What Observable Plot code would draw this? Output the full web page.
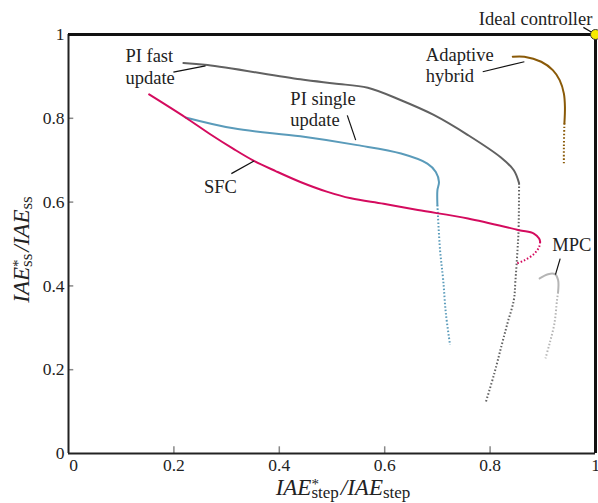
<!DOCTYPE html>
<html><head><meta charset="utf-8">
<script src="https://cdn.jsdelivr.net/npm/d3@7"></script>
<script src="https://cdn.jsdelivr.net/npm/@observablehq/plot@0.6"></script>
<style>body{margin:0;background:#fff} svg{display:block}</style>
</head><body><div id="chart"></div>
<script>
const serif = "Liberation Serif, Times New Roman, DejaVu Serif, serif";

const xTicks = [0, 0.2, 0.4, 0.6, 0.8, 1];
const yTicks = [0, 0.2, 0.4, 0.6, 0.8, 1];
const innerTicks = [0.2, 0.4, 0.6, 0.8];

// [IAE*_step/IAE_step, IAE*_ss/IAE_ss]
const piFastSolid = [[0.218,0.932],[0.264,0.927],[0.440,0.893],[0.504,0.883],[0.568,0.873],[0.631,0.843],[0.693,0.808],[0.758,0.760],[0.820,0.707],[0.845,0.676],[0.855,0.645]];
const piFastDotted = [[0.855,0.645],[0.854,0.533],[0.852,0.486],[0.848,0.411],[0.845,0.366],[0.833,0.311],[0.821,0.254],[0.808,0.191],[0.792,0.123]];

const piSingleSolid = [[0.222,0.802],[0.313,0.776],[0.440,0.757],[0.548,0.736],[0.631,0.716],[0.681,0.692],[0.697,0.672],[0.703,0.648],[0.700,0.628],[0.700,0.593]];
const piSingleDotted = [[0.700,0.593],[0.705,0.486],[0.711,0.414],[0.716,0.335],[0.724,0.259]];

const sfcSolid = [[0.153,0.857],[0.222,0.802],[0.269,0.762],[0.313,0.727],[0.351,0.699],[0.393,0.674],[0.440,0.648],[0.490,0.625],[0.536,0.609],[0.598,0.596],[0.663,0.581],[0.758,0.561],[0.855,0.533],[0.883,0.525],[0.893,0.513],[0.895,0.505]];
const sfcDotted = [[0.895,0.505],[0.893,0.493],[0.884,0.477],[0.865,0.461],[0.849,0.453]];

const adaptiveSolid = [[0.843,0.947],[0.865,0.947],[0.897,0.935],[0.919,0.915],[0.932,0.891],[0.940,0.859],[0.942,0.827],[0.941,0.788]];
const adaptiveDotted = [[0.941,0.788],[0.940,0.732],[0.940,0.688]];

const mpcSolid = [[0.894,0.418],[0.910,0.428],[0.923,0.428],[0.929,0.414],[0.929,0.385]];
const mpcDotted = [[0.929,0.385],[0.927,0.366],[0.922,0.310],[0.913,0.263],[0.905,0.227]];

const ideal = [[1, 1]];

const labelNames = ["PI fast\nupdate", "PI single\nupdate", "Adaptive\nhybrid", "SFC", "MPC"];
const labelX = [0.108, 0.421, 0.678, 0.257, 0.918];
const labelY = [0.883, 0.781, 0.887, 0.621, 0.484];
const labels = labelNames.map((t, i) => ({text: t, x: labelX[i], y: labelY[i]}));

const idealLabel = [{text: "Ideal controller", x: 0.994, y: 1.022}];

const leaderX1 = [0.199, 0.529, 0.786, 0.309, 0.933, 0.977];
const leaderY1 = [0.910, 0.807, 0.911, 0.668, 0.465, 1.017];
const leaderX2 = [0.260, 0.545, 0.865, 0.352, 0.924, 0.996];
const leaderY2 = [0.925, 0.748, 0.935, 0.698, 0.427, 1.003];
const leaders = leaderX1.map((x, i) => ({x1: x, y1: leaderY1[i], x2: leaderX2[i], y2: leaderY2[i]}));

const series = [
  {solid: piFastSolid, dotted: piFastDotted, color: "#616161"},
  {solid: piSingleSolid, dotted: piSingleDotted, color: "#5a9bba"},
  {solid: sfcSolid, dotted: sfcDotted, color: "#d40b5e"},
  {solid: adaptiveSolid, dotted: adaptiveDotted, color: "#8a5a08"},
  {solid: mpcSolid, dotted: mpcDotted, color: "#b5b5b5"}
];

const X = d => d[0], Y = d => d[1];
const lineMarks = series.flatMap(s => [
  Plot.line(s.dotted, {x: X, y: Y, stroke: s.color, strokeWidth: 2, strokeDasharray: "1.5,2", strokeLinecap: "butt", curve: "catmull-rom"}),
  Plot.line(s.solid, {x: X, y: Y, stroke: s.color, strokeWidth: 2, curve: "catmull-rom"})
]);

const fmt = d => String(d);
const plot = Plot.plot({
  width: 598, height: 503,
  marginLeft: 68, marginRight: 3, marginTop: 34, marginBottom: 50,
  x: {domain: [0, 1]},
  y: {domain: [0, 1]},
  style: {fontFamily: serif, background: "#fff"},
  marks: [
    Plot.axisX([0], {tickSize: 0, tickPadding: 5, fontSize: 17.5, fontFamily: serif, fill: "#222", dx: 5, label: null, tickFormat: fmt}),
    Plot.axisX(xTicks.slice(1), {tickSize: 0, tickPadding: 5, fontSize: 17.5, fontFamily: serif, fill: "#222", label: null, tickFormat: fmt}),
    Plot.axisY(yTicks, {tickSize: 0, tickPadding: 4, fontSize: 17.5, fontFamily: serif, fill: "#222", label: null, tickFormat: fmt}),
    Plot.ruleX(innerTicks, {y1: 0, y2: 0.016, stroke: "#888", strokeWidth: 1.5}),
    Plot.ruleY(innerTicks, {x1: 0, x2: 0.01, stroke: "#888", strokeWidth: 1.5}),
    ...lineMarks,
    Plot.link(leaders, {x1: "x1", y1: "y1", x2: "x2", y2: "y2", stroke: "#111", strokeWidth: 1.2}),
    Plot.text(labels, {x: "x", y: "y", text: "text", textAnchor: "start", lineAnchor: "bottom", lineHeight: 1.15, fontSize: 18.5, fontFamily: serif, fill: "#222"}),
    Plot.text(idealLabel, {x: "x", y: "y", text: "text", textAnchor: "end", lineAnchor: "bottom", fontSize: 18.5, fontFamily: serif, fill: "#222"}),
    Plot.ruleX([0], {stroke: "#222", strokeWidth: 2}),
    Plot.ruleY([0], {stroke: "#222", strokeWidth: 2}),
    Plot.ruleX([1], {stroke: "#111", strokeWidth: 3}),
    Plot.ruleY([1], {stroke: "#111", strokeWidth: 3}),
    Plot.dot(ideal, {x: X, y: Y, r: 5, fill: "#f7ea00", stroke: "#333", strokeWidth: 1})
  ]
});

document.getElementById("chart").appendChild(plot);

function mathLabel(svg, sub, transform) {
  const t = d3.select(svg).append("text")
    .attr("transform", transform)
    .attr("text-anchor", "middle")
    .attr("font-family", serif)
    .attr("font-size", 23)
    .attr("fill", "#222");
  t.append("tspan").attr("font-style", "italic").text("IAE");
  t.append("tspan").attr("font-size", 15).attr("dy", -6).text("*");
  t.append("tspan").attr("font-size", 17).attr("dx", -7.5).attr("dy", 9).text(sub);
  t.append("tspan").attr("font-style", "italic").attr("dx", 2).attr("dy", -3).text("/IAE");
  t.append("tspan").attr("font-size", 17).attr("dy", 3).text(sub);
}
mathLabel(plot, "step", "translate(343,495)");
mathLabel(plot, "ss", "translate(29,249.5) rotate(-90)");
</script>
</body></html>
